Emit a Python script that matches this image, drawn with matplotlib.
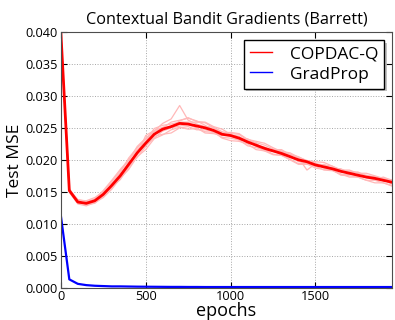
import numpy as np
import matplotlib
matplotlib.use("Agg")
import matplotlib.pyplot as plt
from matplotlib.lines import Line2D

plt.rcParams["font.family"] = ["Open Sans", "DejaVu Sans"]

# test MSE every 50 epochs
epochs = np.arange(0, 2000, 50)

copdac_mean = [0.0400, 0.0152, 0.0134, 0.0132, 0.0136, 0.0146, 0.0160, 0.0175,
               0.0193, 0.0211, 0.0226, 0.0240, 0.0248, 0.0252, 0.0257, 0.0256,
               0.0253, 0.0250, 0.0246, 0.0240, 0.0238, 0.0234, 0.0228, 0.0223,
               0.0218, 0.0214, 0.0210, 0.0205, 0.0200, 0.0197, 0.0192, 0.0189,
               0.0186, 0.0182, 0.0179, 0.0176, 0.0173, 0.0171, 0.0168, 0.0165]

gradprop = [0.0113, 0.0013, 0.0006, 0.0004, 0.0003, 0.00025, 0.0002, 0.0002,
            0.00018, 0.00016, 0.00015, 0.00014, 0.00013, 0.00012, 0.00012, 0.00011,
            0.00011, 0.0001, 0.0001, 0.0001, 0.0001, 0.0001, 0.0001, 0.0001,
            0.0001, 0.0001, 0.0001, 0.0001, 0.0001, 0.0001, 0.0001, 0.0001,
            0.0001, 0.0001, 0.0001, 0.0001, 0.0001, 0.0001, 0.0001, 0.0001]

# individual COPDAC-Q runs, offsets from the mean in units of 1e-4
run1 = [0, 2, 3, 4, 5, 4, 6, 8, 6, 10, 8, 5, 9, 12, 28, 6, 3, 2, 5, 4,
        3, 6, 2, 4, 5, 3, 2, 4, 3, -13, 2, 3, 4, 2, 3, 4, 2, 3, 2, 4]
run2 = [0, -2, -3, -4, -3, -5, -6, -4, -8, -6, -10, -7, -9, -5, -6, -8, -4, -6, -3, -5,
        -4, -3, -6, -4, -2, -5, -3, -4, -6, -3, -5, -4, -2, -6, -4, -3, -5, -3, -4, -5]
run3 = [0, 1, -1, 2, 3, 6, 8, 10, 7, 5, 3, 9, 6, 4, 2, 3, 6, 8, 4, 2,
        5, 7, 4, 6, 8, 5, 3, 6, 4, 2, 5, 7, 4, 2, 5, 3, 6, 4, 3, 2]
run4 = [0, -1, 2, -2, -4, -3, -2, -6, -4, -7, -5, -3, -8, -10, -7, -4, -6, -3, -2, -6,
        -8, -5, -3, -7, -4, -6, -3, -5, -7, -4, -2, -5, -3, -4, -6, -3, -5, -7, -4, -6]
run5 = [0, 3, 1, 0, 2, -1, 3, 5, 10, 8, 6, 4, 2, 7, 5, 9, 8, 4, 1, -2,
        1, 3, -2, 0, 2, -1, 4, 1, -3, 0, 3, -2, 1, 4, 0, -2, 3, 1, -1, 2]
run6 = [0, -3, -2, -1, -2, -1, -4, -3, -5, -2, -4, -6, -3, -2, -4, -1, -3, -8, -5, -2,
        0, -3, 1, -2, -4, 0, -2, 1, -2, -3, -1, 0, -2, -5, -2, 1, -1, -2, 1, -3]
run7 = [0, 1, 4, 3, 1, 2, 0, 2, 3, -3, 12, 6, 3, -1, 4, 10, 7, 9, 6, 8,
        2, -2, 5, 3, -3, 2, 6, 3, 5, 1, -2, 4, -1, 3, 1, 5, 2, -1, 5, 3]
runs = [run1, run2, run3, run4, run5, run6, run7]

fig = plt.figure(figsize=(3.95, 3.2), dpi=100)
ax = fig.add_axes([0.154, 0.101, 0.838, 0.799])

mean = np.array(copdac_mean)
for r in runs:
    ax.plot(epochs, mean + np.array(r) * 1e-4, color=(1, 0.72, 0.72), lw=0.9)
ax.plot(epochs, copdac_mean, color="red", lw=2)
ax.plot(epochs, gradprop, color="blue", lw=1.6)

ax.set_xlim(0, 1950)
ax.set_ylim(0, 0.040)
ax.set_xticks([0, 500, 1000, 1500])
ax.set_yticks(np.arange(0, 0.0401, 0.005))
ax.yaxis.set_major_formatter(matplotlib.ticker.FormatStrFormatter("%.3f"))
ax.tick_params(direction="in", top=True, right=True, labelsize=9.2, length=4, pad=2)
ax.grid(True, linestyle=":", color="0.65", lw=0.7)
for s in ax.spines.values():
    s.set_color("0.3")

ax.set_title("Contextual Bandit Gradients (Barrett)", fontsize=11.7, pad=6)
ax.set_xlabel("epochs", fontsize=13, labelpad=-1)
ax.set_ylabel("Test MSE", fontsize=12.5, labelpad=2)

handles = [Line2D([], [], color="red", lw=1.0), Line2D([], [], color="blue", lw=1.0)]
leg = ax.legend(handles, ["COPDAC-Q", "GradProp"], loc="upper right", fontsize=12.5,
                fancybox=False, framealpha=1,
                shadow={"facecolor": "0.7", "edgecolor": "none", "alpha": 0.8},
                handlelength=1.3, handletextpad=1.0, borderaxespad=0.45,
                labelspacing=0.25, borderpad=0.35)
leg.get_frame().set_edgecolor("black")

fig.savefig("out.png", dpi=100)
